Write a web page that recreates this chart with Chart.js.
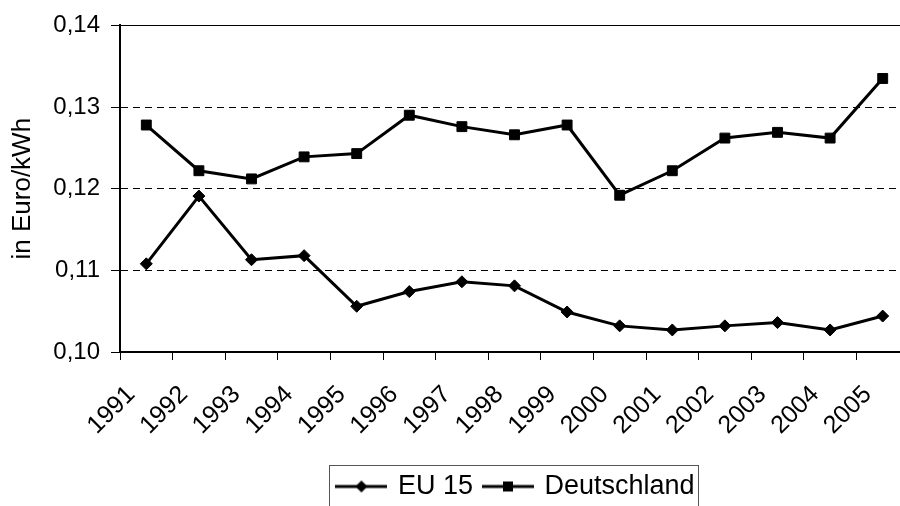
<!DOCTYPE html>
<html>
<head>
<meta charset="utf-8">
<script src="https://cdn.jsdelivr.net/npm/chart.js@4.4.1/dist/chart.umd.min.js"></script>
<style>
  html, body { margin: 0; padding: 0; background: #fff; }
  #wrap { width: 900px; height: 506px; overflow: hidden; }
  canvas { display: block; }
</style>
</head>
<body>
<div id="wrap"><canvas id="lineChart" width="912" height="506"></canvas></div>
<script>
// Strompreise
const years = ['1991', '1992', '1993', '1994', '1995', '1996', '1997', '1998', '1999', '2000', '2001', '2002', '2003', '2004', '2005'];
const eu15 = [0.1108, 0.1191, 0.1113, 0.1118, 0.1056, 0.1074, 0.1086, 0.1081, 0.1049, 0.1032, 0.1027, 0.1032, 0.1036, 0.1027, 0.1044];
const deutschland = [0.1278, 0.1222, 0.1212, 0.1239, 0.1243, 0.1290, 0.1276, 0.1266, 0.1278, 0.1192, 0.1222, 0.1262, 0.1269, 0.1262, 0.1335];
const yMin = 0.10, yMax = 0.14, yStep = 0.01;

const FONT = '"Liberation Sans", Arial, sans-serif';

// small line+marker images for the legend
function legendIcon(style) {
  const c = document.createElement('canvas');
  c.width = 52; c.height = 16;
  const g = c.getContext('2d');
  g.strokeStyle = '#000';
  g.lineWidth = 3;
  g.beginPath(); g.moveTo(0, 8); g.lineTo(52, 8); g.stroke();
  g.fillStyle = '#000';
  if (style === 'diamond') {
    g.beginPath(); g.moveTo(26, 2); g.lineTo(32, 8); g.lineTo(26, 14); g.lineTo(20, 8); g.closePath(); g.fill();
  } else {
    g.fillRect(21, 3, 10, 10);
  }
  return c;
}
const icons = [legendIcon('diamond'), legendIcon('square')];

const legendShift = 62;

const legendFrame = {
  id: 'legendFrame',
  afterLayout(chart) {
    chart.legend.left += legendShift;
    chart.legend.right += legendShift;
  },
  afterDraw(chart) {
    const boxes = chart.legend.legendHitBoxes;
    if (!boxes || !boxes.length) return;
    const left = Math.min(...boxes.map(b => b.left)) - 9;
    const right = Math.max(...boxes.map(b => b.left + b.width)) + 4;
    const top = chart.legend.top + 4;
    const ctx = chart.ctx;
    ctx.save();
    ctx.strokeStyle = '#555';
    ctx.lineWidth = 1;
    ctx.strokeRect(Math.round(left) + 0.5, Math.round(top) + 0.5, Math.round(right - left), 80);
    ctx.restore();
  }
};

const ctx = document.getElementById('lineChart').getContext('2d');
new Chart(ctx, {
  type: 'line',
  data: {
    labels: years,
    datasets: [{
      label: 'EU 15',
      data: eu15,
      borderColor: '#000',
      backgroundColor: '#000',
      borderWidth: 3,
      pointStyle: 'rectRot',
      pointRadius: 6,
      pointBorderWidth: 1,
      pointBackgroundColor: '#000',
      tension: 0
    }, {
      label: 'Deutschland',
      data: deutschland,
      borderColor: '#000',
      backgroundColor: '#000',
      borderWidth: 3,
      pointStyle: 'rect',
      pointRadius: 7,
      pointBorderWidth: 1,
      pointBackgroundColor: '#000',
      tension: 0
    }]
  },
  options: {
    responsive: false,
    animation: false,
    layout: { autoPadding: false, padding: { top: 24, left: 0, right: 3, bottom: -4 } },
    plugins: {
      tooltip: { enabled: false },
      legend: {
        position: 'bottom',
        labels: {
          color: '#000',
          font: { family: FONT, size: 27 },
          usePointStyle: true,
          pointStyleWidth: 46,
          padding: 12,
          generateLabels(chart) {
            const items = Chart.defaults.plugins.legend.labels.generateLabels(chart);
            items.forEach((it, i) => { it.pointStyle = icons[i]; });
            return items;
          }
        }
      }
    },
    scales: {
      x: {
        offset: true,
        grid: { display: true, drawOnChartArea: false, offset: true, color: '#000', tickLength: 8, tickWidth: 1 },
        border: { color: '#000', width: 2 },
        ticks: {
          color: '#000',
          font: { family: FONT, size: 25 },
          autoSkip: false,
          minRotation: 45,
          maxRotation: 45,
          padding: 20,
          labelOffset: -15
        },
        afterFit(scale) {
          scale.height = 109;
          scale.paddingLeft = 0;
          scale.paddingRight = 0;
        }
      },
      y: {
        min: yMin,
        max: yMax,
        title: {
          display: true,
          text: 'in Euro/kWh',
          color: '#000',
          font: { family: FONT, size: 26 },
          padding: { top: 7, bottom: 0 }
        },
        grid: { color: '#000', lineWidth: 1, tickLength: 9, tickBorderDash: [] },
        border: {
          color: '#000',
          width: 2,
          dash: c => (c.index === 0 || c.index === 4) ? [] : [7, 5]
        },
        ticks: {
          color: '#000',
          stepSize: yStep,
          padding: 11,
          font: { family: FONT, size: 24 },
          callback: v => v.toFixed(2).replace('.', ',')
        },
        afterFit(scale) { scale.width = 120; }
      }
    }
  },
  plugins: [legendFrame]
});
</script>
</body>
</html>
